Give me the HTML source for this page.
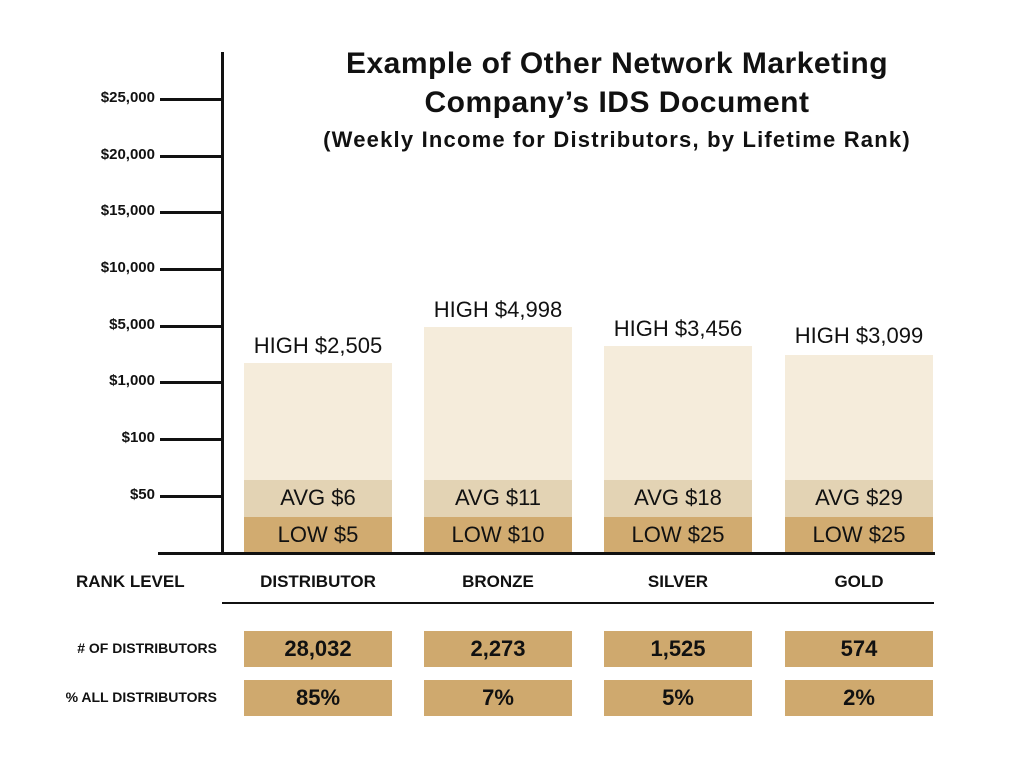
<!DOCTYPE html>
<html><head><style>
body{margin:0;width:1024px;height:768px;background:#fff;position:relative;font-family:"Liberation Sans",sans-serif;color:#111;overflow:hidden}
.a{position:absolute}
.t{position:absolute;white-space:nowrap}
.tick{position:absolute;left:160px;width:62px;height:3px;background:#111}
.yl{position:absolute;right:869px;font-weight:bold;font-size:15px;white-space:nowrap}
.c{text-align:center;width:148px}
.hi{background:#f5ecdb}.av{background:#e3d3b4}.lo{background:#d1ab70}
.bx{background:#cfa96e;height:36px;font-weight:bold;font-size:22px;line-height:36px;text-align:center;width:148px}
.lab{font-size:22px;line-height:36px}
.rk{font-weight:bold;font-size:17px}
.rl{position:absolute;right:807px;font-weight:bold;font-size:14px;white-space:nowrap}
</style></head><body>
<div class="t" style="left:300px;width:634px;text-align:center;top:44px;font-weight:bold;font-size:30px;line-height:39px;letter-spacing:0.5px">Example of Other Network Marketing<br>Company’s IDS Document</div>
<div class="t" style="left:300px;width:634px;text-align:center;top:127px;font-weight:bold;font-size:22px;letter-spacing:1.2px">(Weekly Income for Distributors, by Lifetime Rank)</div>
<div class="a" style="left:221px;top:52px;width:3px;height:503px;background:#111"></div>
<div class="a" style="left:158px;top:552px;width:777px;height:3px;background:#111"></div>
<div class="a" style="left:222px;top:602px;width:712px;height:2px;background:#111"></div>
<div class="tick" style="top:98px"></div><div class="yl" style="top:89px">$25,000</div>
<div class="tick" style="top:155px"></div><div class="yl" style="top:146px">$20,000</div>
<div class="tick" style="top:211px"></div><div class="yl" style="top:202px">$15,000</div>
<div class="tick" style="top:268px"></div><div class="yl" style="top:259px">$10,000</div>
<div class="tick" style="top:325px"></div><div class="yl" style="top:316px">$5,000</div>
<div class="tick" style="top:381px"></div><div class="yl" style="top:372px">$1,000</div>
<div class="tick" style="top:438px"></div><div class="yl" style="top:429px">$100</div>
<div class="tick" style="top:495px"></div><div class="yl" style="top:486px">$50</div>

<div class="a hi" style="left:244px;top:363px;width:148px;height:117px"></div>
<div class="a hi" style="left:424px;top:327px;width:148px;height:153px"></div>
<div class="a hi" style="left:604px;top:346px;width:148px;height:134px"></div>
<div class="a hi" style="left:785px;top:355px;width:148px;height:125px"></div>

<div class="t c" style="left:234px;width:168px;top:333px;font-size:22px">HIGH $2,505</div>
<div class="t c" style="left:414px;width:168px;top:297px;font-size:22px">HIGH $4,998</div>
<div class="t c" style="left:594px;width:168px;top:316px;font-size:22px">HIGH $3,456</div>
<div class="t c" style="left:775px;width:168px;top:323px;font-size:22px">HIGH $3,099</div>

<div class="t c av lab" style="left:244px;top:480px;height:37px">AVG $6</div>
<div class="t c av lab" style="left:424px;top:480px;height:37px">AVG $11</div>
<div class="t c av lab" style="left:604px;top:480px;height:37px">AVG $18</div>
<div class="t c av lab" style="left:785px;top:480px;height:37px">AVG $29</div>
<div class="t c lo lab" style="left:244px;top:517px;height:35px;line-height:35px">LOW $5</div>
<div class="t c lo lab" style="left:424px;top:517px;height:35px;line-height:35px">LOW $10</div>
<div class="t c lo lab" style="left:604px;top:517px;height:35px;line-height:35px">LOW $25</div>
<div class="t c lo lab" style="left:785px;top:517px;height:35px;line-height:35px">LOW $25</div>

<div class="t rk" style="left:76px;top:572px">RANK LEVEL</div>
<div class="t c rk" style="left:244px;top:572px">DISTRIBUTOR</div>
<div class="t c rk" style="left:424px;top:572px">BRONZE</div>
<div class="t c rk" style="left:604px;top:572px">SILVER</div>
<div class="t c rk" style="left:785px;top:572px">GOLD</div>

<div class="rl" style="top:640px"># OF DISTRIBUTORS</div>
<div class="rl" style="top:689px">% ALL DISTRIBUTORS</div>
<div class="a bx" style="left:244px;top:631px">28,032</div>
<div class="a bx" style="left:424px;top:631px">2,273</div>
<div class="a bx" style="left:604px;top:631px">1,525</div>
<div class="a bx" style="left:785px;top:631px">574</div>
<div class="a bx" style="left:244px;top:680px">85%</div>
<div class="a bx" style="left:424px;top:680px">7%</div>
<div class="a bx" style="left:604px;top:680px">5%</div>
<div class="a bx" style="left:785px;top:680px">2%</div>
</body></html>
